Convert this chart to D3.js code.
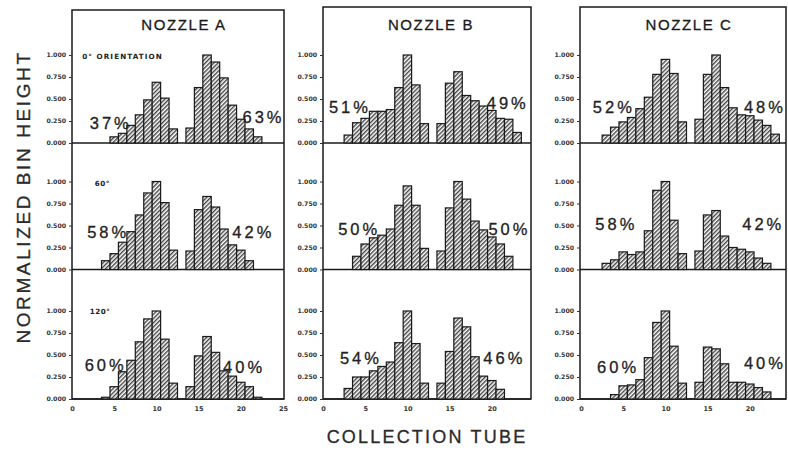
<!DOCTYPE html>
<html><head><meta charset="utf-8">
<script src="https://cdn.jsdelivr.net/npm/d3@7"></script>
<style>body{margin:0;background:#fff}</style>
</head><body>
<svg id="c" width="788" height="450"></svg>
<script>
// ---- data ----
const tubes = [1,2,3,4,5,6,7,8,9,10,11,12,13,14,15,16,17,18,19,20,21,22,23];
const nozzles = ["NOZZLE A","NOZZLE B","NOZZLE C"];
const orientations = ["0° ORIENTATION","60°","120°"];
const yTicks = [0,0.25,0.5,0.75,1];
const xTicks = [0,5,10,15,20,25];

const nozzleA_0   = [0,0,0,0,0.07,0.11,0.20,0.32,0.49,0.69,0.51,0.16,0,0.17,0.63,1.00,0.92,0.74,0.43,0.27,0.16,0.07,0];
const nozzleA_60  = [0,0,0,0.10,0.18,0.31,0.43,0.62,0.87,1.00,0.76,0.22,0,0.21,0.68,0.83,0.71,0.46,0.28,0.22,0.10,0,0];
const nozzleA_120 = [0,0,0,0.02,0.14,0.31,0.44,0.65,0.91,1.00,0.68,0.18,0,0.14,0.49,0.71,0.53,0.32,0.26,0.19,0.14,0.02,0];
const nozzleB_0   = [0,0,0.09,0.23,0.28,0.36,0.36,0.38,0.63,1.00,0.66,0.22,0,0.22,0.68,0.81,0.54,0.48,0.42,0.37,0.28,0.27,0.12];
const nozzleB_60  = [0,0,0,0.15,0.29,0.36,0.39,0.46,0.73,0.95,0.73,0.24,0,0.21,0.70,1.00,0.80,0.55,0.45,0.37,0.29,0.15,0];
const nozzleB_120 = [0,0,0.12,0.25,0.25,0.32,0.37,0.42,0.64,1.00,0.63,0.18,0,0.18,0.54,0.92,0.82,0.48,0.26,0.21,0.11,0,0];
const nozzleC_0   = [0,0,0.09,0.18,0.24,0.29,0.39,0.52,0.78,0.95,0.79,0.24,0,0.27,0.78,1.00,0.63,0.40,0.32,0.31,0.26,0.20,0.10];
const nozzleC_60  = [0,0,0.07,0.11,0.20,0.17,0.20,0.44,0.90,1.00,0.56,0.18,0,0.21,0.62,0.67,0.38,0.25,0.23,0.20,0.13,0.07,0];
const nozzleC_120 = [0,0,0,0.05,0.15,0.16,0.22,0.47,0.87,1.00,0.60,0.18,0,0.19,0.59,0.57,0.40,0.19,0.19,0.17,0.13,0.08,0];

const pctA = [["37%","63%"],["58%","42%"],["60%","40%"]];
const pctB = [["51%","49%"],["50%","50%"],["54%","46%"]];
const pctC = [["52%","48%"],["58%","42%"],["60%","40%"]];
// label anchor points in data units [tube, height]
const pctPosA = [[[2.1,0.23],[20.2,0.30]],[[1.8,0.43],[19.0,0.43]],[[1.5,0.39],[17.9,0.36]]];
const pctPosB = [[[0.7,0.41],[19.4,0.45]],[[1.8,0.46],[19.6,0.46]],[[2.0,0.47],[19.0,0.47]]];
const pctPosC = [[[1.4,0.41],[19.3,0.41]],[[1.7,0.52],[19.1,0.52]],[[1.9,0.36],[19.3,0.41]]];
const orientPos = [[1.2,0.98],[2.7,0.98],[2.1,0.99]];

const series = [[nozzleA_0,nozzleA_60,nozzleA_120],[nozzleB_0,nozzleB_60,nozzleB_120],[nozzleC_0,nozzleC_60,nozzleC_120]];
const pcts = [pctA,pctB,pctC];
const pctPos = [pctPosA,pctPosB,pctPosC];

// ---- layout ----
const cols = [
  {left:72,  right:284, top:10, x0:72,  titleX:184},
  {left:323, right:531, top:7,  x0:323, titleX:431},
  {left:580, right:786, top:7,  x0:581, titleX:689}
];
const unit = 8.44;
const baselines = [143, 269.5, 399];
const rowH = 88;
const ink = "#1a1a1a";

const svg = d3.select("#c");
const defs = svg.append("defs");
const pat = defs.append("pattern").attr("id","hatch").attr("patternUnits","userSpaceOnUse")
  .attr("width",3).attr("height",3).attr("patternTransform","rotate(45)");
pat.append("rect").attr("width",3).attr("height",3).attr("fill","#fff");
pat.append("line").attr("x1",0.75).attr("y1",0).attr("x2",0.75).attr("y2",3)
  .attr("stroke","#2a2a2a").attr("stroke-width",1.25);

cols.forEach((c, ci) => {
  const xMax = (c.right - c.x0) / unit;
  const x = d3.scaleLinear().domain([0, xMax]).range([c.x0, c.right]);
  // frame
  svg.append("rect").attr("x",c.left).attr("y",c.top).attr("width",c.right-c.left)
    .attr("height",baselines[2]-c.top).attr("fill","none").attr("stroke",ink).attr("stroke-width",1.5);
  // title
  svg.append("text").attr("x",c.titleX).attr("y",24).attr("text-anchor","middle")
    .attr("dominant-baseline","central").attr("font-family","Liberation Sans, Arial, sans-serif")
    .attr("font-size",15).attr("letter-spacing",1.6).attr("fill",ink).attr("stroke",ink).attr("stroke-width",0.3)
    .text(nozzles[ci]);

  baselines.forEach((b, ri) => {
    const y = d3.scaleLinear().domain([0,1]).range([b, b - rowH]);
    const g = svg.append("g");
    // row separator / baseline
    g.append("line").attr("x1",c.left).attr("x2",c.right).attr("y1",b).attr("y2",b)
      .attr("stroke",ink).attr("stroke-width",1.5);
    // bars
    const data = tubes.map((t,i)=>({t, v: series[ci][ri][i]})).filter(d=>d.v>0);
    g.selectAll("rect.bar").data(data).join("rect").attr("class","bar")
      .attr("x", d=>x(d.t-0.5)).attr("width", d=>x(d.t+0.5)-x(d.t-0.5))
      .attr("y", d=>y(d.v)).attr("height", d=>y(0)-y(d.v))
      .attr("fill","url(#hatch)").attr("stroke",ink).attr("stroke-width",1.2);
    // y axis
    const ya = g.append("g").attr("transform",`translate(${c.left},0)`)
      .call(d3.axisLeft(y).tickValues(yTicks).tickFormat(d3.format(".3f")).tickSize(3).tickPadding(3));
    ya.select(".domain").remove();
    ya.selectAll("text").attr("font-family","DejaVu Sans, sans-serif").attr("font-size",6.2)
      .attr("font-weight","bold").attr("fill","#333");
    ya.selectAll("line").attr("stroke","#333");
    // percent labels
    pcts[ci][ri].forEach((txt, k) => {
      const p = pctPos[ci][ri][k];
      g.append("text").attr("x", x(p[0])).attr("y", y(p[1])).attr("dominant-baseline","central")
        .attr("font-family","Liberation Sans, Arial, sans-serif").attr("font-size",16.5)
        .attr("letter-spacing",3).attr("fill","#222").attr("stroke","#222").attr("stroke-width",0.3)
        .text(txt);
    });
    // orientation labels (first column)
    if (ci === 0) {
      const p = orientPos[ri];
      g.append("text").attr("x", x(p[0])).attr("y", y(p[1])).attr("dominant-baseline","central")
        .attr("font-family","DejaVu Sans, sans-serif").attr("font-size",7.2).attr("font-weight","bold")
        .attr("letter-spacing",ri===0?1.1:0.5).attr("fill","#222").text(orientations[ri]);
    }
    // x axis on bottom row
    if (ri === 2) {
      const xa = g.append("g").attr("transform",`translate(0,${b})`)
        .call(d3.axisBottom(x).tickValues(xTicks.filter(t=>t<=xMax+0.01)).tickFormat(d3.format("d")).tickSize(0).tickPadding(7));
      xa.select(".domain").remove();
      xa.selectAll("text").attr("font-family","DejaVu Sans, sans-serif").attr("font-size",6.5)
        .attr("font-weight","bold").attr("fill","#333");
    }
  });
});

// axis titles
svg.append("text").attr("transform","translate(23,197) rotate(-90)").attr("text-anchor","middle")
  .attr("dominant-baseline","central").attr("font-family","Liberation Sans, Arial, sans-serif")
  .attr("font-size",19).attr("letter-spacing",2.6).attr("fill","#2a2a2a").attr("stroke","#2a2a2a").attr("stroke-width",0.3)
  .text("NORMALIZED BIN HEIGHT");
svg.append("text").attr("x",427).attr("y",437).attr("text-anchor","middle")
  .attr("dominant-baseline","central").attr("font-family","Liberation Sans, Arial, sans-serif")
  .attr("font-size",18).attr("letter-spacing",2.2).attr("fill","#2a2a2a").attr("stroke","#2a2a2a").attr("stroke-width",0.3)
  .text("COLLECTION TUBE");
</script>
</body></html>
